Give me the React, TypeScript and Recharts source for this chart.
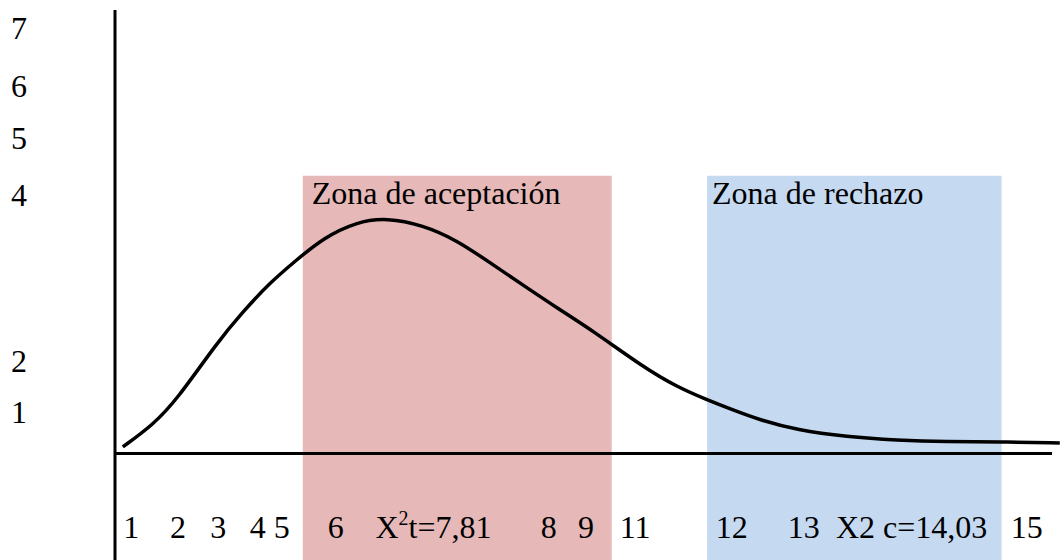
import React from 'react'
import {
  ComposedChart, Line, XAxis, YAxis, ReferenceArea, ReferenceLine,
} from 'recharts'

// curve of the chi-square density (hand drawn in the original)
const curveX = [0.13, 0.63, 1.03, 1.7, 2.13, 2.58, 3.03, 3.47, 4.03, 4.53, 5.13, 5.7, 6.25, 6.8, 7.37, 7.97, 8.8, 9.37, 9.87, 10.3, 10.75, 11.37, 12.2, 13.03, 13.87, 14.75, 15.75]
const curveY = [0.12, 0.51, 0.96, 1.98, 2.53, 3.05, 3.46, 3.85, 4.14, 4.21, 4.08, 3.81, 3.41, 3.01, 2.6, 2.19, 1.55, 1.19, 0.96, 0.78, 0.6, 0.42, 0.3, 0.24, 0.21, 0.21, 0.19]

// zones
const zoneNames = ['Zona de aceptación', 'Zona de rechazo']
const zoneStart = [3.13, 9.87]
const zoneEnd = [8.28, 14.78]
const zoneTop = 4.96
const zoneColors = ['#e6b8b7', '#c5d9f1']

// tick labels, placed where they were typed in the original
const xTickPos = [0.27, 1.05, 1.72, 2.38, 2.78, 3.68, 5.31, 7.23, 7.85, 8.67, 10.28, 11.48, 13.28, 15.2]
const xTickLabels = ['1', '2', '3', '4', '5', '6', 'X²t=7,81', '8', '9', '11', '12', '13', 'X2 c=14,03', '15']
const yTickPos = [7.6, 6.56, 5.63, 4.62, 1.65, 0.75]
const yTickLabels = ['7', '6', '5', '4', '2', '1']

const data = curveX.map((x, i) => ({ x, y: curveY[i] }))

const FONT = '"Liberation Serif", "Times New Roman", serif'
const FS = 32

function XTick(props: any) {
  const label = xTickLabels[props.index] ?? ''
  const parts = label.split('²')
  return (
    <text x={props.x} y={props.y - 22} textAnchor="middle" fontFamily={FONT} fontSize={FS} fill="#000">
      {parts.length > 1 ? (
        <>
          <tspan>{parts[0]}</tspan>
          <tspan dy={-13} fontSize={20}>2</tspan>
          <tspan dy={13}>{parts[1]}</tspan>
        </>
      ) : label}
    </text>
  )
}

function YTick(props: any) {
  return (
    <text x={19} y={props.y + 11} textAnchor="middle" fontFamily={FONT} fontSize={FS} fill="#000">
      {yTickLabels[props.index]}
    </text>
  )
}

export default function App() {
  return (
    <div style={{ position: 'absolute', left: 0, top: 0, width: 1061, height: 560, overflow: 'hidden', background: '#fff' }}>
      <ComposedChart width={1061} height={600} data={data} margin={{ top: 0, right: 0, bottom: 0, left: 0 }}>
        {zoneNames.map((name, i) => (
          <ReferenceArea
            key={name}
            x1={zoneStart[i]}
            x2={zoneEnd[i]}
            y1={-1.9}
            y2={zoneTop}
            fill={zoneColors[i]}
            fillOpacity={1}
            stroke="none"
            label={(p: any) => (
              <text x={p.viewBox.x + (i === 0 ? 9 : 5)} y={p.viewBox.y + 28} fontFamily={FONT} fontSize={FS} fill="#000">
                {name}
              </text>
            )}
          />
        ))}
        <XAxis
          type="number"
          dataKey="x"
          domain={[0, 15.77]}
          ticks={xTickPos}
          interval={0}
          height={40}
          tickSize={0}
          tickMargin={0}
          axisLine={false}
          tickLine={false}
          tick={<XTick />}
        />
        <YAxis
          type="number"
          domain={[-1.9, 8.1]}
          ticks={yTickPos}
          interval={0}
          width={115}
          axisLine={false}
          tickLine={false}
          tick={<YTick />}
        />
        <ReferenceLine segment={[{ x: 0, y: 0 }, { x: 15.62, y: 0 }]} stroke="#000" strokeWidth={3} />
        <ReferenceLine segment={[{ x: 0, y: 7.92 }, { x: 0, y: -1.9 }]} stroke="#000" strokeWidth={3} />
        <Line type="basis" dataKey="y" stroke="#000" strokeWidth={3.5} dot={false} isAnimationActive={false} />
      </ComposedChart>
    </div>
  )
}
